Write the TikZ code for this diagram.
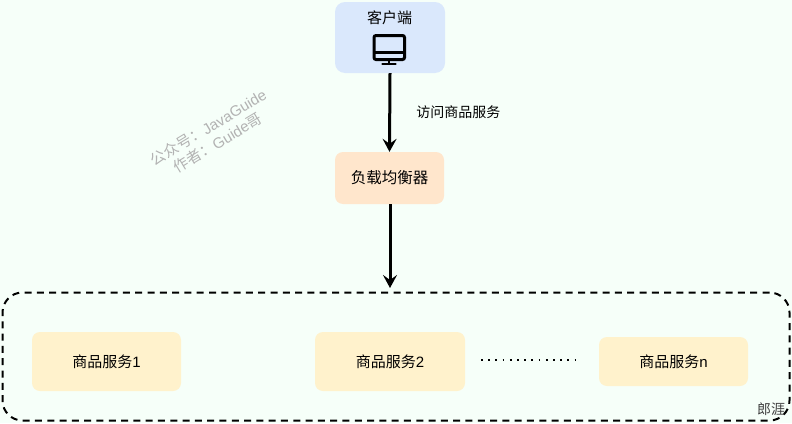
\documentclass[tikz,border=0pt]{standalone}
\usepackage{fontspec}
\setmainfont{Noto Sans CJK SC}
\newfontfamily\latinfont{Liberation Sans}
\usetikzlibrary{arrows.meta, positioning}
\definecolor{PageGreen}{HTML}{F6FFF9}
\definecolor{ClientBlue}{HTML}{DAE8FC}
\definecolor{BalancerOrange}{HTML}{FFE6CC}
\definecolor{ServiceYellow}{HTML}{FFF2CC}

\begin{document}
\begin{tikzpicture}[x=1pt, y=-1pt]
\tikzset{% boxes and connectors
  block/.style={rectangle, rounded corners=8pt, inner sep=0pt, font=\fontsize{15}{17}\selectfont, text=black},
  line/.style={draw, line width=3pt, color=black, -{Stealth[length=13pt, width=14pt, inset=5pt]}},
}
\fill[PageGreen] (0,0) rectangle (792,423);
\useasboundingbox (0,0) rectangle (792,423);

\node[draw=black, line width=2pt, dash pattern=on 7pt off 5.3pt, rounded corners=20pt,
  minimum width=787pt, minimum height=128pt, inner sep=0pt] (ServiceGroup) at (396,356.5) {};

\node[block, fill=ClientBlue, minimum width=110pt, minimum height=71pt, rounded corners=10pt] (Client) at (390,37.5) {};
\node[font=\fontsize{15}{17}\selectfont, inner sep=0pt] (ClientLabel) at (389.5,17.5) {客户端};
\node[block, fill=BalancerOrange, minimum width=109pt, minimum height=52pt, font=\fontsize{15.5}{17}\selectfont] (Balancer) at (389.5,178) {负载均衡器};

\node[block, fill=ServiceYellow, minimum width=149pt, minimum height=59pt] (ServiceOne) at (106.5,361.5) {商品服务{\latinfont 1}};
\node[block, fill=ServiceYellow, minimum width=150pt, minimum height=59pt] (ServiceTwo) at (390,361.5) {商品服务{\latinfont 2}};
\node[block, fill=ServiceYellow, minimum width=149pt, minimum height=49pt] (ServiceN) at (673.5,361.5) {商品服务{\latinfont n}};

% monitor icon inside the client box
\draw[line width=3pt, rounded corners=2pt] (374,35.5) rectangle (404.5,59.5);
\draw[line width=2.6pt] (374,52.5) -- (404.5,52.5);
\draw[line width=2.6pt] (389,59.5) -- (389,63.5);
\draw[line width=2.6pt, line cap=round] (382.5,63.8) -- (395.5,63.8);

\coordinate (GroupTop) at (390,288);
\draw[line] (Client.south) -- (Balancer.north)
  node[midway, right=25pt, font=\fontsize{14}{16}\selectfont, text=black, inner sep=0pt] (VisitLabel) {访问商品服务};
\draw[line] (Balancer.south -| GroupTop) -- (GroupTop);

\coordinate (DotsStart) at (481,360);
\coordinate (DotsEnd) at (581,360);
\draw[line width=1.8pt, dash pattern=on 1.8pt off 5.4pt] (DotsStart) -- (DotsEnd);

\node[font=\fontsize{14}{16}\selectfont, text=black!75, inner sep=0pt] (Signature) at (771,409) {郎涯};

\node[rotate=31, align=center, text=black!30, font=\fontsize{15}{18}\selectfont, inner sep=0pt] (Watermark) at (213,135)
  {公众号：{\latinfont JavaGuide}\\作者：{\latinfont Guide}哥};
\end{tikzpicture}
\end{document}
